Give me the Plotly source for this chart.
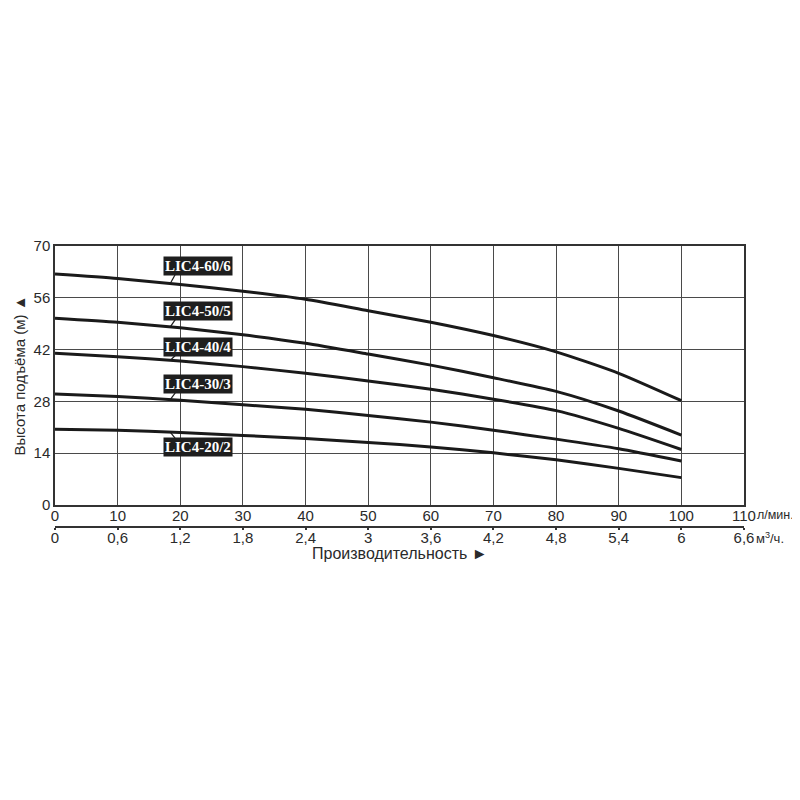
import numpy as np
import plotly.graph_objects as go

# ---- data ----
flow_lpm = [0, 10, 20, 30, 40, 50, 60, 70, 80, 90, 100]
models = ["LIC4-60/6", "LIC4-50/5", "LIC4-40/4", "LIC4-30/3", "LIC4-20/2"]
head_60_6 = [62.4, 61.2, 59.6, 57.8, 55.6, 52.5, 49.4, 45.8, 41.4, 35.6, 28.2]
head_50_5 = [50.5, 49.4, 47.9, 46.0, 43.7, 40.8, 37.8, 34.4, 30.7, 25.4, 18.9]
head_40_4 = [41.0, 40.1, 38.9, 37.4, 35.6, 33.5, 31.3, 28.6, 25.5, 20.7, 15.0]
head_30_3 = [30.0, 29.3, 28.3, 27.1, 25.9, 24.2, 22.4, 20.2, 17.8, 15.2, 11.9]
head_20_2 = [20.5, 20.2, 19.6, 18.8, 18.0, 16.9, 15.7, 14.1, 12.2, 9.9, 7.4]
heads = [head_60_6, head_50_5, head_40_4, head_30_3, head_20_2]
label_y = [64.6, 52.4, 42.7, 32.6, 15.7]
label_x = 22.8

x_ticks = [0, 10, 20, 30, 40, 50, 60, 70, 80, 90, 100, 110]
y_ticks = [0, 14, 28, 42, 56, 70]
m3_ticks = [0, 0.6, 1.2, 1.8, 2.4, 3.0, 3.6, 4.2, 4.8, 5.4, 6.0, 6.6]
m3_labels = ["0", "0,6", "1,2", "1,8", "2,4", "3", "3,6", "4,2", "4,8", "5,4", "6", "6,6"]

FONT = "Liberation Sans, Arial, sans-serif"
TXT = "#2a2a2a"
GRID = "#4a4a4a"

fig = go.Figure()
for name, h in zip(models, heads):
    fig.add_trace(go.Scatter(x=flow_lpm, y=h, mode="lines", name=name,
                             line=dict(color="#1a1a1a", width=3.0, shape="spline", smoothing=0.6),
                             showlegend=False, hoverinfo="skip"))

# invisible trace for secondary axis
fig.add_trace(go.Scatter(x=[m3_ticks[0], m3_ticks[-1]], y=[0, 0], xaxis="x2", mode="lines",
                         line=dict(width=0), showlegend=False, hoverinfo="skip"))

# labels and leader lines
for name, h, ly in zip(models, heads, label_y):
    fig.add_annotation(x=label_x, y=ly, text="<b>" + name + "</b>", showarrow=False,
                       font=dict(family="Liberation Serif, Times New Roman, serif", size=15, color="white"),
                       bgcolor="#1e1e1e", borderpad=1, xref="x", yref="y")
    cx = 18.4
    cy = float(np.interp(cx, flow_lpm, h))
    ey = ly - 2.3 if ly > cy else ly + 2.3
    fig.add_shape(type="line", x0=cx, y0=cy, x1=cx + 0.8, y1=ey, xref="x", yref="y",
                  line=dict(color="#1a1a1a", width=1.2))

fig.update_layout(
    width=800, height=800,
    margin=dict(l=47, r=64, t=238, b=281),
    paper_bgcolor="white", plot_bgcolor="white",
    font=dict(family=FONT, size=15, color=TXT),
    xaxis=dict(range=[0, 110], tickvals=x_ticks, ticktext=[str(v) for v in x_ticks],
               showgrid=True, gridcolor=GRID, gridwidth=1.3, zeroline=False,
               showline=True, linecolor="#333", linewidth=1.5, mirror=True, automargin=False,
               ticks="", tickfont=dict(size=15, color=TXT), anchor="y", ticklabelstandoff=-4),
    yaxis=dict(range=[0, 70], tickvals=y_ticks, ticktext=[str(v) for v in y_ticks],
               domain=[0.0783, 1], automargin=False,
               showgrid=True, gridcolor=GRID, gridwidth=1.3, zeroline=False,
               showline=True, linecolor="#333", linewidth=1.5, mirror=True,
               ticks="", tickfont=dict(size=15, color=TXT)),
    xaxis2=dict(range=[0, 6.6], tickvals=m3_ticks, ticktext=m3_labels,
                overlaying="x", anchor="free", position=0, side="bottom", automargin=False,
                showgrid=False, zeroline=False, showline=True, linecolor="#333", linewidth=1.5,
                ticks="outside", ticklen=2, tickcolor="#333", tickwidth=2, ticklabelstandoff=-5,
                tickfont=dict(size=15, color=TXT)),
)

fig.add_annotation(xref="paper", yref="paper", x=1.0, y=0.0783, xanchor="left", yanchor="top",
                   text="л/мин.", showarrow=False, xshift=11, yshift=-1, font=dict(size=12.5, color=TXT))
fig.add_annotation(xref="paper", yref="paper", x=1.0, y=0, xanchor="left", yanchor="top",
                   text="м<sup>3</sup>/ч.", showarrow=False, xshift=10, yshift=-1, font=dict(size=13, color=TXT))
fig.add_annotation(xref="paper", yref="paper", x=0.5, y=0, xanchor="center", yanchor="top",
                   text="Производительность ►", showarrow=False, yshift=-16, font=dict(size=16, color=TXT))
fig.add_annotation(xref="paper", yref="paper", x=0, y=0.539, xanchor="center", yanchor="middle",
                   text="Высота подъёма (м) ▲", textangle=-90, showarrow=False, xshift=-35,
                   font=dict(size=15, color=TXT))

fig.write_html("out.html")
